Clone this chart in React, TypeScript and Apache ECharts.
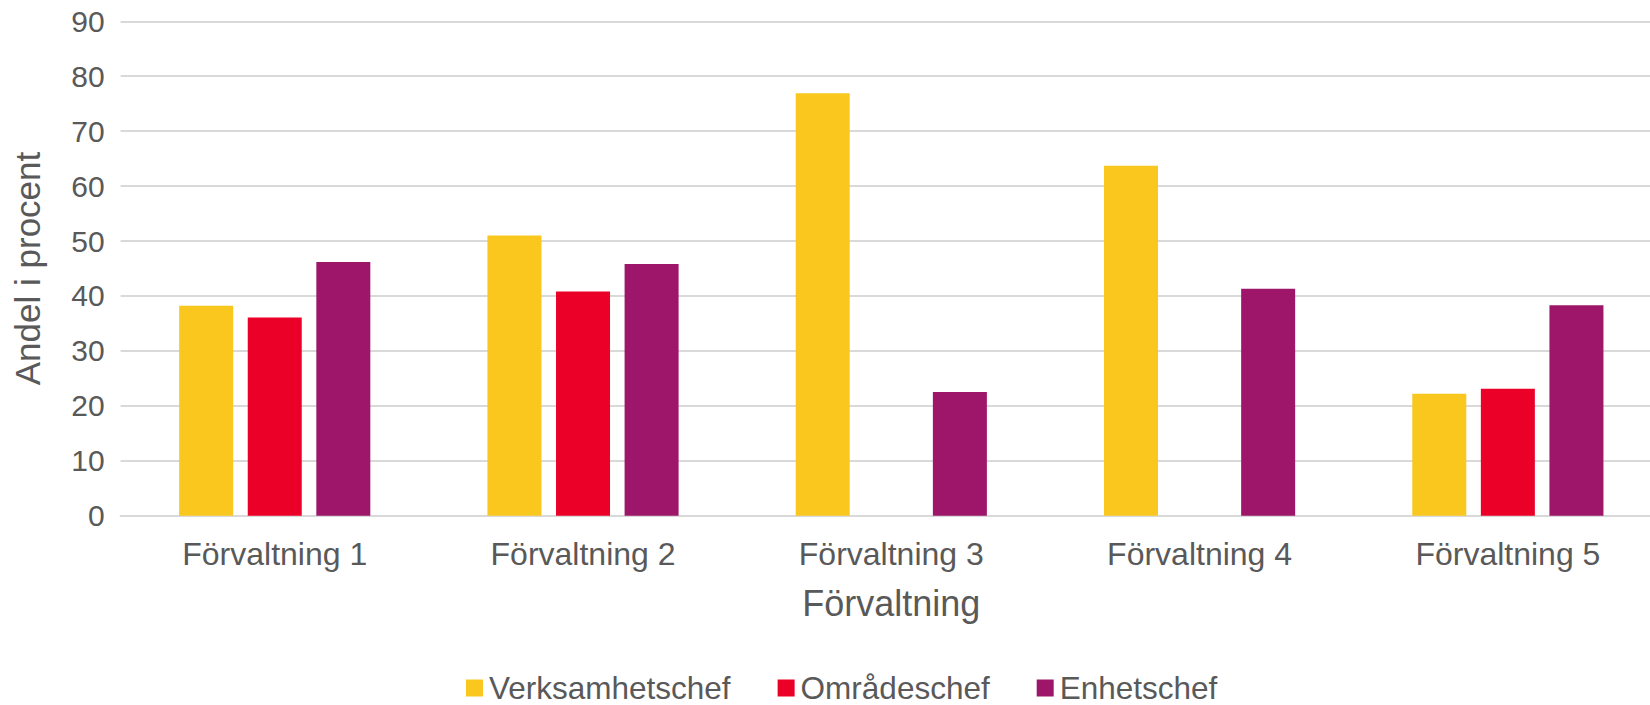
import React, { useEffect, useRef } from "react";
import * as echarts from "echarts";

const categories = ["Förvaltning 1", "Förvaltning 2", "Förvaltning 3", "Förvaltning 4", "Förvaltning 5"];
const verksamhetschef = [38.2, 51.0, 76.9, 63.7, 22.2];
const omradeschef: (number | null)[] = [36.1, 40.8, null, null, 23.1];
const enhetschef = [46.2, 45.8, 22.5, 41.3, 38.3];
const seriesNames = ["Verksamhetschef", "Områdeschef", "Enhetschef"];
const colors = ["#F9C71E", "#EB0028", "#9D166A"];

const FONT = "'Liberation Sans', Arial, sans-serif";
const TXT = "#595959";

export default function App() {
  const ref = useRef<HTMLDivElement>(null);
  useEffect(() => {
    if (!ref.current) return;
    const chart = echarts.init(ref.current, null, { renderer: "svg" });
    const data = [verksamhetschef, omradeschef, enhetschef];
    chart.setOption({
      animation: false,
      backgroundColor: "#ffffff",
      textStyle: { fontFamily: FONT, color: TXT },
      grid: { left: 120.6, right: 0, top: 21.3, bottom: 189.3, containLabel: false },
      legend: {
        left: 461,
        top: 667,
        itemWidth: 17,
        itemHeight: 17,
        itemGap: 47,
        icon: "rect",
        data: seriesNames,
        textStyle: { fontFamily: FONT, color: TXT, fontSize: 31.5, lineHeight: 30, padding: [0, 0, 0, 1] },
      },
      xAxis: {
        type: "category",
        data: categories,
        name: "Förvaltning",
        nameLocation: "middle",
        nameGap: 70,
        nameTextStyle: { fontFamily: FONT, color: TXT, fontSize: 36 },
        axisLine: { show: true, lineStyle: { color: "#d9d9d9", width: 2 } },
        axisTick: { show: false },
        axisLabel: { fontFamily: FONT, color: TXT, fontSize: 32, margin: 22, interval: 0 },
      },
      yAxis: {
        type: "value",
        min: 0,
        max: 90,
        interval: 10,
        name: "Andel i procent",
        nameLocation: "middle",
        nameGap: 76,
        nameRotate: 90,
        nameTextStyle: { fontFamily: FONT, color: TXT, fontSize: 35 },
        axisLine: { show: false },
        axisTick: { show: false },
        axisLabel: { fontFamily: FONT, color: TXT, fontSize: 30, margin: 16 },
        splitLine: { lineStyle: { color: "#d9d9d9", width: 2 } },
      },
      series: seriesNames.map((n, i) => ({
        name: n,
        type: "bar",
        data: data[i],
        barWidth: 54,
        barGap: "27%",
        itemStyle: { color: colors[i] },
      })),
    });
    return () => chart.dispose();
  }, []);
  return (
    <div
      ref={ref}
      style={{ position: "fixed", left: 0, top: 0, width: 1662, height: 705, background: "#fff" }}
    />
  );
}
